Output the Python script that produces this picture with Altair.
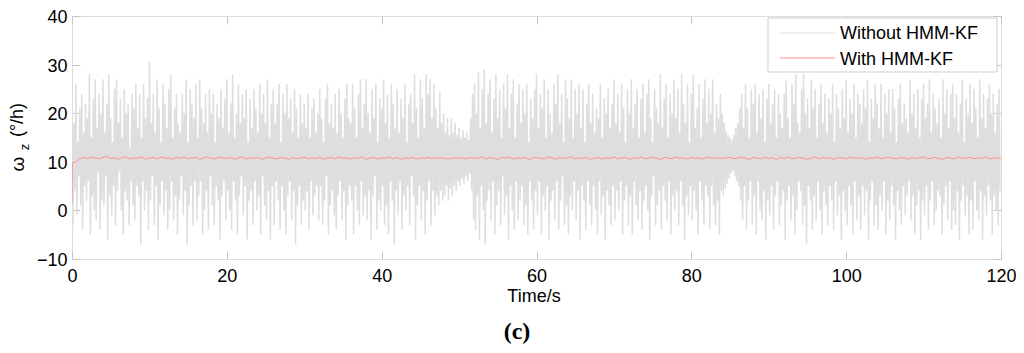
import altair as alt
import pandas as pd

# local maxima of the raw gyro signal (4 per second, 2 s per row)
upper = [
    25, 18, 26, 14, 21, 24, 16, 22,
    19, 28, 15, 23, 27, 17, 24, 20,
    27, 16, 22, 28, 19, 14, 25, 27,
    18, 23, 15, 25, 20, 22, 13, 24,
    21, 26, 17, 24, 15, 26, 19, 23,
    30.5, 18, 24, 16, 27, 21, 14, 26,
    22, 17, 25, 28, 15, 21, 24, 18,
    16, 24, 20, 27, 14, 25, 22, 19,
    26, 15, 27, 21, 18, 24, 16, 25,
    20, 24, 14, 22, 19, 25, 17, 23,
    27, 16, 22, 28, 15, 20, 26, 18,
    24, 19, 25, 14, 23, 17, 25, 21,
    16, 26, 20, 24, 18, 27, 15, 22,
    25, 18, 22, 26, 14, 24, 20, 26,
    19, 23, 16, 25, 21, 15, 24, 18,
    22, 17, 24, 15, 21, 23, 16, 20,
    25, 19, 14, 23, 26, 18, 22, 17,
    24, 16, 25, 20, 15, 23, 26, 19,
    18, 26, 21, 15, 24, 27, 17, 22,
    27, 20, 16, 25, 19, 26, 14, 23,
    21, 27, 18, 24, 15, 26, 22, 17,
    25, 16, 23, 19, 26, 14, 22, 24,
    18, 28, 21, 15, 27, 23, 17, 28,
    24, 27, 19, 26, 21, 17, 24.5, 18,
    20, 16, 19, 15.5, 19, 16, 18, 15.5,
    17, 15, 16.5, 15, 16, 14.5, 19, 24,
    26, 20, 28.5, 17, 25, 29, 18, 24,
    27, 16, 23, 28, 19, 25, 15, 26,
    21, 28, 17, 24, 27, 15, 22, 26,
    18, 25, 20, 26, 14, 23, 19, 25,
    28, 17, 24, 21, 27, 15, 25, 20,
    16, 26, 22, 28, 18, 24, 14, 27,
    23, 19, 27, 15, 25, 20, 26, 17,
    25, 14, 22, 26, 18, 24, 16, 21,
    19, 26, 15, 23, 20, 25, 17, 22,
    27, 18, 24, 16, 26, 21, 14, 25,
    20, 27, 17, 22, 25, 15, 23, 26,
    16, 24, 27, 19, 14, 25, 21, 18,
    28, 17, 23, 26, 15, 24, 20, 27,
    19, 25, 16, 28, 22, 18, 26, 14,
    24, 28, 17, 21, 26, 15, 23, 27,
    18, 25, 20, 27, 16, 22, 19, 24,
    20, 18, 16.5, 15.5, 15, 14.5, 15.5, 17,
    18, 21, 24, 17, 26, 21, 15, 25,
    22, 26, 16, 24, 19, 25, 14, 23,
    26, 18, 22, 25, 15, 24, 20, 17,
    24, 27, 19, 15, 26, 22, 28, 18,
    16, 25, 28, 20, 23, 17, 27, 21,
    25, 15, 22, 26, 18, 24, 16, 23,
    20, 26, 14, 24, 21, 17, 25, 19,
    27, 16, 23, 20, 26, 15, 24, 22,
    18, 25, 21, 27, 14, 23, 19, 26,
    22, 17, 26, 15, 24, 20, 25, 16,
    25, 21, 14, 23, 26, 18, 22, 19,
    16, 27, 20, 24, 17, 25, 15, 23,
    26, 19, 22, 27, 16, 24, 21, 18,
    23, 15, 27, 20, 25, 17, 24, 26,
    19, 24, 16, 22, 27, 14, 23, 20,
    26, 18, 25, 21, 15, 27, 19, 24,
    17, 23, 26, 20, 24, 16, 22, 25,
]

# local minima of the raw gyro signal
lower = [
    -3, 4, -1, 7, 1, -4, 5, 2,
    6, -5, 3, 0, -2, 8, -4, 2,
    1, 7, -6, 3, -1, 5, -3, 4,
    8, 0, -5, 4, 2, -3, 6, 1,
    -2, 5, 3, -7, 6, 0, 4, -4,
    2, 7, -3, 5, -6, 1, 6, -1,
    4, -4, 0, 6, -2, 3, -5, 2,
    7, -1, 4, -7, 1, 5, -3, 6,
    -2, 3, 6, -5, 0, 4, -4, 7,
    1, -3, 5, 2, -6, 3, 6, -2,
    4, 0, -4, 6, 2, -5, 3, 7,
    -1, 5, -6, 2, 4, -3, 6, 0,
    3, -5, 7, 1, -2, 4, -6, 5,
    -3, 6, 2, -4, 5, 0, -5, 3,
    6, -2, 4, -7, 1, 5, -3, 2,
    0, 4, -4, 6, -1, 3, 5, -2,
    5, -3, 2, 7, -5, 1, 4, -1,
    -4, 3, 6, -2, 4, -6, 1, 5,
    2, -5, 5, 0, -3, 6, -1, 3,
    -2, 4, -6, 3, 7, -4, 2, 0,
    5, -3, 1, -5, 6, 2, -7, 4,
    -1, 6, -4, 3, 0, 5, -3, 7,
    3, -6, 1, 5, -2, 4, -5, 2,
    6, -3, 4, -1, 3, 1, 4, 2,
    3, 5, 2, 4.5, 3, 5, 4, 6,
    5, 6.5, 5.5, 7, 6, 7.5, 4, -2,
    -4, 3, -6, 5, 0, -7, 2, 4,
    -2, 6, -5, 1, 4, -3, 7, -1,
    3, -6, 5, 0, -4, 6, -2, 2,
    5, -3, 1, -5, 6, 2, -4, 4,
    -1, 6, -5, 3, 0, 5, -6, 2,
    4, -2, 6, -4, 2, 7, -3, 1,
    -5, 3, 0, 6, -2, 4, -6, 5,
    2, -4, 6, 1, -3, 5, 0, -5,
    6, -1, 3, -6, 4, 1, -3, 5,
    -2, 4, 0, 6, -5, 2, 5, -3,
    3, -5, 6, 1, -2, 4, -4, 2,
    5, 0, -6, 3, 7, -3, 1, 4,
    -4, 5, 2, -2, 6, -5, 3, 0,
    4, -3, 6, 1, -6, 3, -1, 5,
    -2, 4, 0, -5, 6, 2, -3, 5,
    3, -4, 5, 1, -3, 2, -5, 4,
    3, 4.5, 5.5, 6.5, 7.5, 8, 7, 6,
    5, 2, -2, 5, -4, 2, 6, -3,
    3, -5, 6, 0, -2, 4, -6, 2,
    -1, 5, -4, 3, 6, -3, 1, 4,
    -6, 2, 5, -2, 3, -5, 0, 6,
    4, -3, 1, -7, 5, 2, -4, 3,
    -2, 6, 0, -5, 4, 1, -3, 5,
    2, -4, 6, -1, 3, -6, 4, 0,
    -3, 5, 1, -5, 6, -2, 3, -4,
    5, -1, 4, -6, 2, 6, -3, 1,
    -4, 3, 0, 6, -5, 2, -2, 5,
    1, -6, 4, 0, -3, 5, -1, 3,
    6, -2, 3, -5, 1, 4, -6, 2,
    -1, 5, -4, 2, 6, -3, 0, 4,
    3, -5, 1, 5, -2, 6, -4, 0,
    -3, 4, -6, 2, 5, -1, 3, -5,
    2, -4, 6, 0, -2, 4, -6, 3,
    -1, 5, 2, -5, 3, 0, -3, 4,
]

# HMM-KF filtered output: start-up values at t = 0 and 0.05 s, then every 0.5 s
kf_start = [1.5, 9.8]
kf = [
    10.0, 10.6, 10.9, 10.7, 11.0, 10.8, 10.6, 10.9, 11.1, 10.7, 10.8, 10.5, 10.9, 11.0, 10.6, 10.8, 10.7, 11.0, 10.5,
    10.8, 10.9, 10.6, 11.0, 10.7, 10.8, 10.5, 10.9, 10.7, 11.0, 10.6, 10.8, 10.9, 10.5, 10.8, 11.0, 10.7, 10.6, 10.9, 10.8,
    10.7, 10.9, 10.5, 10.8, 11.0, 10.6, 10.8, 10.7, 10.9, 10.5, 10.8, 11.0, 10.7, 10.6, 10.9, 10.8, 10.5, 10.9, 10.7, 10.8,
    11.0, 10.6, 10.8, 10.7, 10.9, 10.5, 10.8, 10.9, 10.6, 11.0, 10.7, 10.8, 10.6, 10.9, 10.7, 11.0, 10.5, 10.8, 10.9, 10.6,
    10.8, 10.7, 11.0, 10.6, 10.9, 10.5, 10.8, 10.7, 10.9, 10.6, 10.8, 10.7, 10.9, 10.7, 10.8, 10.7, 10.8, 10.6, 10.7, 10.8,
    10.7, 10.8, 10.6, 10.9, 10.7, 10.8, 11.0, 10.6, 10.9, 10.7, 10.5, 10.9, 10.8, 11.0, 10.6, 10.8, 10.7, 10.9, 10.5, 10.8,
    10.9, 10.7, 10.6, 11.0, 10.8, 10.5, 10.9, 10.7, 10.8, 11.0, 10.6, 10.8, 10.7, 10.9, 10.5, 10.8, 10.9, 10.6, 10.8, 10.7,
    11.0, 10.6, 10.8, 10.9, 10.5, 10.8, 10.7, 11.0, 10.6, 10.8, 10.9, 10.7, 10.5, 10.9, 10.8, 10.6, 11.0, 10.7, 10.8, 10.6,
    10.9, 10.7, 10.8, 10.6, 10.9, 10.8, 10.7, 10.8, 10.7, 10.8, 10.9, 10.6, 10.8, 11.0, 10.7, 10.5, 10.9, 10.8, 10.6, 11.0,
    10.7, 10.8, 10.5, 10.9, 10.7, 11.0, 10.6, 10.8, 10.9, 10.7, 10.5, 10.8, 11.0, 10.6, 10.9, 10.7, 10.8, 10.5, 10.9, 10.8,
    10.6, 11.0, 10.8, 10.7, 10.9, 10.5, 10.8, 10.7, 11.0, 10.6, 10.8, 10.9, 10.7, 10.6, 10.9, 10.8, 10.5, 10.9, 10.7, 10.8,
    11.0, 10.6, 10.8, 10.9, 10.7, 10.5, 10.9, 10.8, 10.6, 11.0, 10.7, 10.8, 10.9, 10.6, 10.8, 10.7, 11.0, 10.6, 10.8, 10.7,
    10.8,
]

series_names = ["Without HMM-KF", "With HMM-KF"]
series_colors = ["#dedede", "#ff9090"]
x_ticks = [0, 20, 40, 60, 80, 100, 120]
y_ticks = [-10, 0, 10, 20, 30, 40]

raw_t, raw_v = [], []
for i, (u, l) in enumerate(zip(upper, lower)):
    raw_t += [i * 0.25, i * 0.25 + 0.125]
    raw_v += [u, l]
raw_df = pd.DataFrame({"t": raw_t, "w": raw_v, "series": series_names[0]})

kf_t = [0.0, 0.05] + [0.5 * (i + 1) for i in range(len(kf))]
kf_df = pd.DataFrame({"t": kf_t, "w": kf_start + kf, "series": series_names[1]})

FONT = "Liberation Sans"
TICK = "#c4c4c4"
FS = 18

xs = alt.Scale(domain=[0, 120], nice=False, zero=False)
ys = alt.Scale(domain=[-10, 40], nice=False, zero=False)
cs = alt.Scale(domain=series_names, range=series_colors)

ax_bottom = alt.Axis(orient="bottom", values=x_ticks, offset=-8, tickSize=8, domain=False,
                     labelPadding=8, labelFont=FONT, labelFontSize=FS, labelColor="#000",
                     tickColor=TICK, title=None, grid=False, labelFlush=False)
ax_left = alt.Axis(orient="left", values=y_ticks, offset=-8, tickSize=8, domain=False,
                   labelPadding=5, labelFont=FONT, labelFontSize=FS, labelColor="#000",
                   labelBaseline="alphabetic", labelOffset=6.5,
                   tickColor=TICK, title=None, grid=False, labelFlush=False)
ax_top = alt.Axis(orient="top", values=x_ticks, offset=-8, tickSize=8, domain=False,
                  labels=False, tickColor=TICK, title=None, grid=False)
ax_right = alt.Axis(orient="right", values=y_ticks, offset=-8, tickSize=8, domain=False,
                    labels=False, tickColor=TICK, title=None, grid=False)

raw_line = alt.Chart(raw_df).mark_line(strokeWidth=1.5, clip=True).encode(
    x=alt.X("t:Q", scale=xs, axis=ax_bottom),
    y=alt.Y("w:Q", scale=ys, axis=ax_left),
    color=alt.Color("series:N", scale=cs, legend=None),
    order="t:Q",
)

kf_line = alt.Chart(kf_df).mark_line(strokeWidth=1, clip=True).encode(
    x=alt.X("t:Q", scale=xs, axis=ax_top),
    y=alt.Y("w:Q", scale=ys, axis=ax_right),
    color=alt.Color("series:N", scale=cs, legend=None),
    order="t:Q",
)

one = pd.DataFrame({"a": [0]})

def label(txt, x, y, size=FS, angle=0, font=FONT, weight="normal", align="center"):
    return alt.Chart(one).mark_text(
        text=txt, font=font, fontSize=size, angle=angle, fontWeight=weight,
        align=align, baseline="middle", color="#000",
    ).encode(x=alt.value(x), y=alt.value(y))

# legend (drawn as marks so the sample lines can be long)
leg_layers = [
    alt.Chart(one).mark_rect(fill="white", stroke="#cfcfcf", strokeWidth=1).encode(
        x=alt.value(696), x2=alt.value(925), y=alt.value(2), y2=alt.value(56)
    )
]
legend_line_y = [17, 42]
legend_text_y = [18, 44]
for name, col, ly, ty in zip(series_names, series_colors, legend_line_y, legend_text_y):
    leg_layers.append(
        alt.Chart(one).mark_rule(strokeWidth=1, color=col).encode(
            x=alt.value(708), x2=alt.value(763), y=alt.value(ly)
        )
    )
    leg_layers.append(label(name, 768, ty, align="left"))

texts = [
    label("Time/s", 462, 281),
    label("(c)", 445, 316, size=24, font="Liberation Serif", weight="bold"),
    label("ω", -54, 148, angle=270, size=19),
    label("z", -47, 131, size=13, angle=270),
    label("(°/h)", -54, 104, angle=270),
]

chart = alt.layer(raw_line, kf_line, *leg_layers, *texts).resolve_axis(
    x="independent", y="independent"
).properties(
    width=929, height=243,
    autosize=alt.AutoSizeParams(type="none"),
    padding={"left": 64, "top": 8, "right": 15, "bottom": 86},
).configure_view(stroke="#d0d0d0", strokeWidth=1).configure(background="white")

chart.save("out.html", embed_options={"renderer": "svg", "actions": False})
